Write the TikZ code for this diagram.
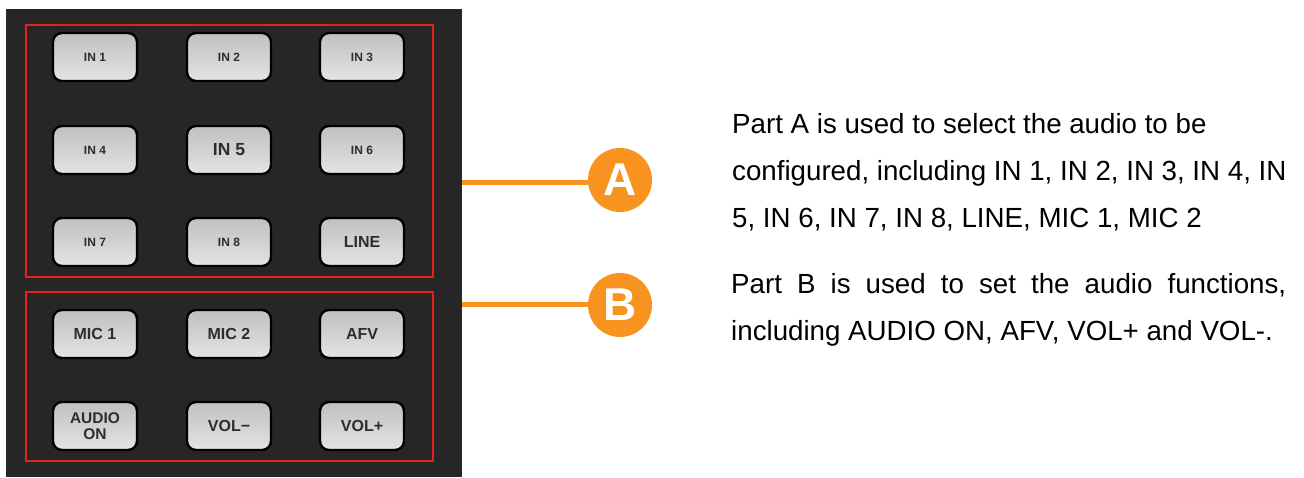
\documentclass[tikz,border=0pt]{standalone}
\usepackage{fontspec}
\setmainfont{Liberation Sans}
\definecolor{panel}{RGB}{38,38,38}
\definecolor{redbox}{RGB}{228,32,28}
\definecolor{orng}{RGB}{247,147,30}
\definecolor{btntop}{RGB}{192,192,192}
\definecolor{btnbot}{RGB}{228,228,228}
\definecolor{btntxt}{RGB}{45,45,45}
\begin{document}
\begin{tikzpicture}[x=1pt,y=-1pt,
  btn/.style={draw=black, line width=2.4pt, rounded corners=9pt,
    minimum width=84pt, minimum height=48pt, inner sep=0pt,
    top color=btntop, bottom color=btnbot, text=btntxt, align=center,
    font=\bfseries\fontsize{12}{14}\selectfont},
  bigl/.style={font=\bfseries\fontsize{16}{17}\selectfont},
  frame/.style={draw=redbox, line width=2.6pt},
  badge/.style={circle, fill=orng, minimum size=64pt, inner sep=0pt,
    text=white, font=\bfseries\fontsize{46}{46}\selectfont},
  lead/.style={draw=orng, line width=5pt},
  desc/.style={anchor=base west, inner sep=0pt, text=black,
    font=\fontsize{27.7}{47}\selectfont}]
\useasboundingbox (0,0) rectangle (1304,478);
\fill[white] (0,0) rectangle (1304,478);
% panel
\fill[panel] (6,9) rectangle (462,477);
\draw[frame] (26,25) rectangle (433,277);
\draw[frame] (26,292) rectangle (433,461);
% buttons part A
\node[btn] (in1) at (95,57) {IN 1};
\node[btn] (in2) at (229,57) {IN 2};
\node[btn] (in3) at (362,57) {IN 3};
\node[btn] (in4) at (95,150) {IN 4};
\node[btn, font=\bfseries\fontsize{17.5}{19}\selectfont] (in5) at (229,150) {IN 5};
\node[btn] (in6) at (362,150) {IN 6};
\node[btn] (in7) at (95,242) {IN 7};
\node[btn] (in8) at (229,242) {IN 8};
\node[btn, bigl] (line) at (362,242) {LINE};
% buttons part B
\node[btn, bigl] (mic1) at (95,334) {MIC 1};
\node[btn, bigl] (mic2) at (229,334) {MIC 2};
\node[btn, bigl] (afv) at (362,334) {AFV};
\node[btn, font=\bfseries\fontsize{15.5}{16}\selectfont] (audio) at (95,426) {AUDIO\\ON};
\node[btn, bigl] (volm) at (229,426) {VOL−};
\node[btn, bigl] (volp) at (362,426) {VOL+};
% badges and leaders
\node[badge] (A) at (620,180) {A};
\node[badge] (B) at (620,305) {B};
\coordinate (la) at (462,183);
\coordinate (lb) at (462,305);
\draw[lead] (la) -- (A.west |- la);
\draw[lead] (lb) -- (B.west |- lb);
% descriptions
\node[desc] (ta1) at (732,134) {Part A is used to select the audio to be};
\node[desc] (ta2) at (732,181) {configured, including IN 1, IN 2, IN 3, IN 4, IN};
\node[desc] (ta3) at (732,228) {5, IN 6, IN 7, IN 8, LINE, MIC 1, MIC 2};
\node[desc] (tb1) at (731,294) {\makebox[555pt][s]{Part B is used to set the audio functions,}};
\node[desc] (tb2) at (731,341) {including AUDIO ON, AFV, VOL+ and VOL-.};
\end{tikzpicture}
\end{document}
